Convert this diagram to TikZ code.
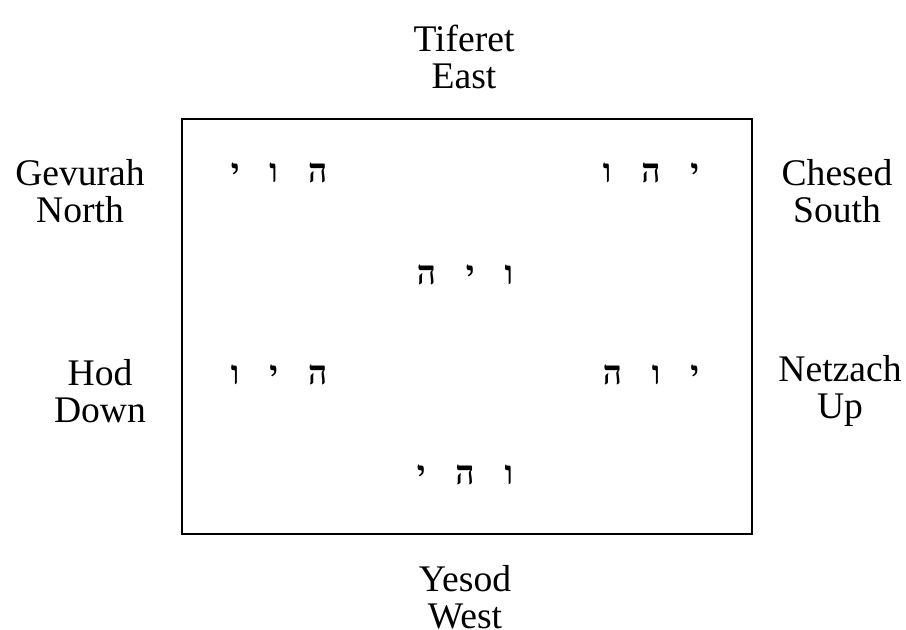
\documentclass[tikz,border=0pt]{standalone}
\usepackage{fontspec}
\setmainfont{Liberation Serif}
\newfontfamily\hebfont[Script=Hebrew]{Liberation Serif}
\TeXXeTstate=1
\usetikzlibrary{positioning}

\newcommand{\hgap}{\hspace{3.0mm}}

\begin{document}
\begin{tikzpicture}[
    side/.style={align=center, font=\fontsize{10.7}{10.5}\selectfont, inner sep=0pt},
    letters/.style={font=\hebfont\bfseries\fontsize{9.5}{9.5}\selectfont, inner sep=0pt},
    frame/.style={draw, line width=0.8pt}
]
\clip (0,0) rectangle (9.06,6.3);
\useasboundingbox (0,0) rectangle (9.06,6.3);

% Box
\node[frame, minimum width=5.70cm, minimum height=4.15cm] (box) at (4.67, 3.035) {};

% Directions
\node[side] (east) at (4.64, 5.73) {Tiferet\\East};
\node[side] (north) at (0.80, 4.39) {Gevurah\\North};
\node[side] (south) at (8.37, 4.39) {Chesed\\South};
\node[side] (down) at (1.00, 2.39) {Hod\\Down};
\node[side] (up) at (8.40, 2.39) {Netzach\\Up};
\node[side] (west) at (4.65, 0.33) {Yesod\\West};

% Letter groups
\node[letters] (tl) at (2.79, 4.57) {\beginR ה\hgap ו\hgap י\endR};
\node[letters] (tr) at (6.51, 4.57) {\beginR י\hgap ה\hgap ו\endR};
\node[letters] (mid) at (4.65, 3.55) {\beginR ו\hgap י\hgap ה\endR};
\node[letters] (ml) at (2.79, 2.55) {\beginR ה\hgap י\hgap ו\endR};
\node[letters] (mr) at (6.51, 2.55) {\beginR י\hgap ו\hgap ה\endR};
\node[letters] (bot) at (4.65, 1.55) {\beginR ו\hgap ה\hgap י\endR};

\end{tikzpicture}
\end{document}
